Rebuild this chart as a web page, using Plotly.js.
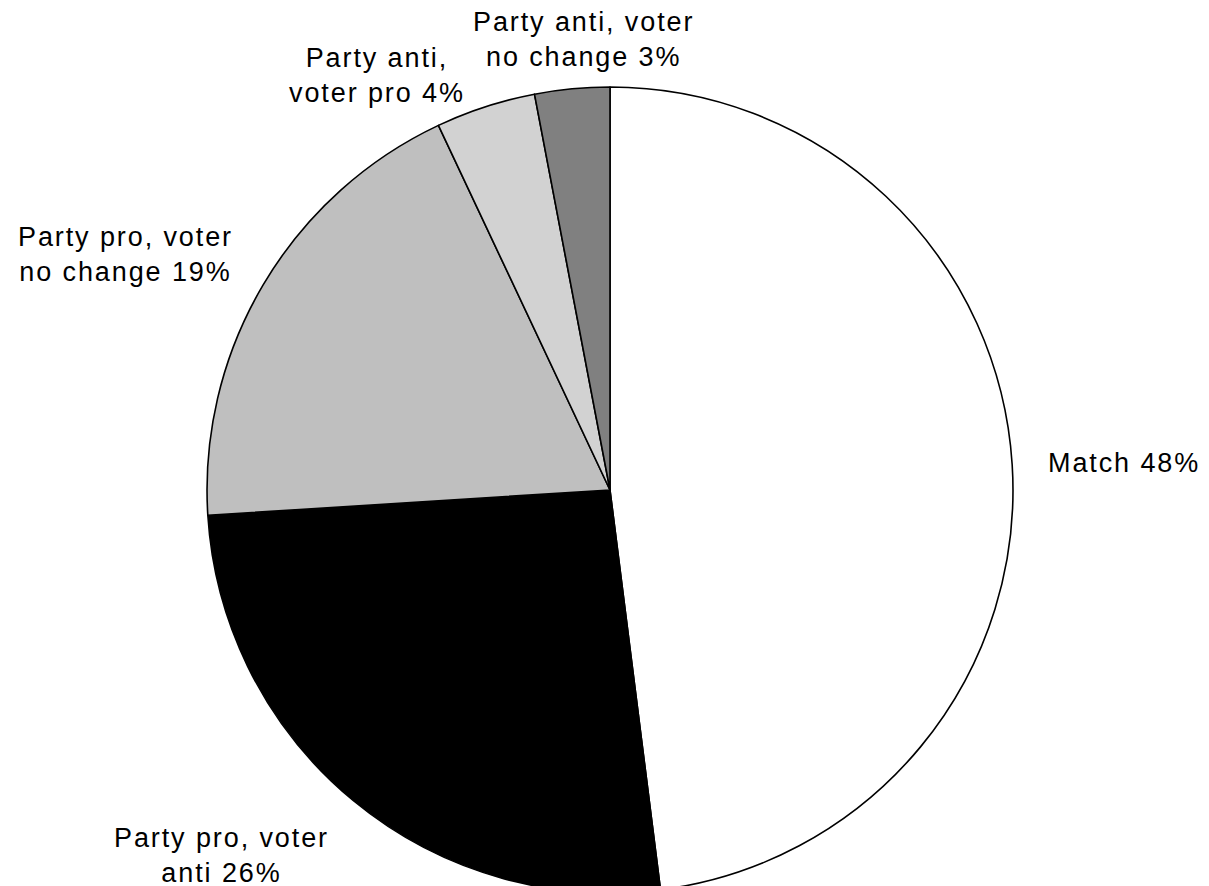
<!DOCTYPE html>
<html>
<head>
<meta charset="utf-8">
<script src="https://cdn.plot.ly/plotly-3.0.1.min.js"></script>
<style>
html,body{margin:0;padding:0;background:#fff;overflow:hidden;}
.annotation-text{letter-spacing:1.9px;}
</style>
</head>
<body>
<div id="chart" style="width:1209px;height:900px;"></div>
<script>
const categories = [
  "Match",
  "Party pro, voter<br>anti",
  "Party pro, voter<br>no change",
  "Party anti,<br>voter pro",
  "Party anti, voter<br>no change"
];
const shares = [48, 26, 19, 4, 3];
const sliceColors = ["#ffffff", "#000000", "#bfbfbf", "#d2d2d2", "#808080"];

const labelText = categories.map((c, i) => c + " " + shares[i] + "%");

const W = 1209, H = 900;
// label block centres (pixels from top-left of the page)
const labelCenters = [[1124, 463], [221, 855], [125, 254], [377, 75], [583, 39]];

const trace = {
  type: "pie",
  labels: categories,
  values: shares,
  textinfo: "none",
  sort: false,
  direction: "clockwise",
  rotation: 0,
  marker: { colors: sliceColors, line: { color: "#000000", width: 1.6 } },
  domain: { x: [0.1712, 0.8379], y: [0.0078, 0.9033] },
  hoverinfo: "none"
};

const annotations = labelText.map((t, i) => ({
  text: t,
  xref: "paper", yref: "paper",
  x: labelCenters[i][0] / W,
  y: (H - labelCenters[i][1]) / H,
  xanchor: "center", yanchor: "middle",
  align: "center",
  showarrow: false,
  borderpad: 0,
  font: { family: "Liberation Sans, Arial, sans-serif", size: 27, color: "#000000" }
}));

const layout = {
  width: W,
  height: H,
  margin: { l: 0, r: 0, t: 0, b: 0 },
  paper_bgcolor: "#ffffff",
  plot_bgcolor: "#ffffff",
  showlegend: false,
  annotations: annotations
};

Plotly.newPlot("chart", [trace], layout, { staticPlot: true, displayModeBar: false });
</script>
</body>
</html>
